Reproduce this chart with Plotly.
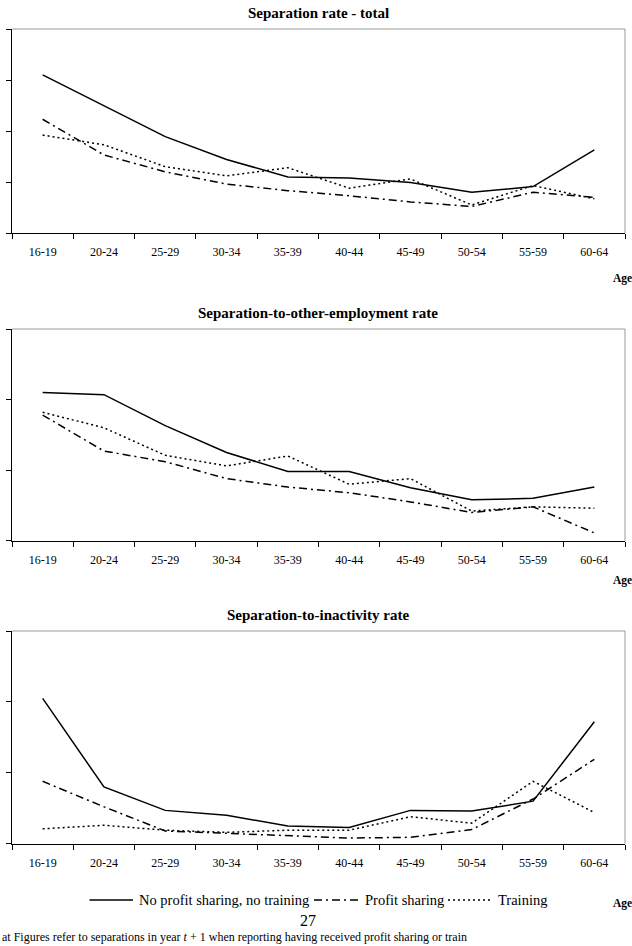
import plotly.graph_objects as go

ages = ["16-19", "20-24", "25-29", "30-34", "35-39", "40-44", "45-49", "50-54", "55-59", "60-64"]

# Panel 1: Separation rate - total (tick labels not visible; axis units 0-4)
total_none = [3.10, 2.49, 1.89, 1.44, 1.10, 1.08, 0.99, 0.80, 0.91, 1.63]
total_profit = [2.23, 1.53, 1.20, 0.96, 0.83, 0.73, 0.61, 0.52, 0.80, 0.70]
total_training = [1.92, 1.73, 1.30, 1.12, 1.28, 0.88, 1.06, 0.55, 0.93, 0.67]

# Panel 2: Separation-to-other-employment rate (axis units 0-3)
emp_none = [2.10, 2.07, 1.63, 1.25, 0.98, 0.98, 0.75, 0.58, 0.60, 0.76]
emp_profit = [1.78, 1.27, 1.12, 0.88, 0.76, 0.68, 0.55, 0.40, 0.48, 0.11]
emp_training = [1.82, 1.60, 1.21, 1.06, 1.20, 0.80, 0.88, 0.42, 0.48, 0.46]

# Panel 3: Separation-to-inactivity rate (axis units 0-3)
ina_none = [2.05, 0.80, 0.47, 0.40, 0.25, 0.23, 0.47, 0.46, 0.60, 1.72]
ina_profit = [0.88, 0.52, 0.18, 0.15, 0.12, 0.08, 0.09, 0.20, 0.63, 1.19]
ina_training = [0.21, 0.26, 0.19, 0.16, 0.19, 0.19, 0.38, 0.29, 0.88, 0.44]

series_names = ["No profit sharing, no training", "Profit sharing", "Training"]
titles = ["Separation rate - total", "Separation-to-other-employment rate", "Separation-to-inactivity rate"]
y_ranges = [[0, 4], [0, 3], [0, 3]]
panels = [
    [total_none, total_profit, total_training],
    [emp_none, emp_profit, emp_training],
    [ina_none, ina_profit, ina_training],
]

W, H = 632, 946
px_x0, px_x1 = 12, 625
panel_px = [(29, 233), (329, 540.7), (631, 843.7)]  # top, bottom in pixels

serif = "Liberation Serif, Times New Roman, serif"
dashes = ["solid", "8px,4px,2px,4px", "2px,3px"]

fig = go.Figure()
layout = dict(
    width=W, height=H,
    margin=dict(l=0, r=0, t=0, b=0),
    paper_bgcolor="white", plot_bgcolor="white",
    showlegend=False,
    font=dict(family=serif, color="black"),
)
annotations = []
shapes = []

for i, (vals, title, yr, (top, bot)) in enumerate(zip(panels, titles, y_ranges, panel_px)):
    xa = "xaxis" if i == 0 else f"xaxis{i+1}"
    ya = "yaxis" if i == 0 else f"yaxis{i+1}"
    xr = "x" if i == 0 else f"x{i+1}"
    yref = "y" if i == 0 else f"y{i+1}"
    for j, (v, name) in enumerate(zip(vals, series_names)):
        fig.add_trace(go.Scatter(
            x=ages, y=v, mode="lines", name=name,
            line=dict(color="black", width=1.5, dash=dashes[j]),
            xaxis=xr, yaxis=yref,
        ))
    layout[xa] = dict(
        domain=[px_x0 / W, px_x1 / W], anchor=yref, type="category",
        categoryorder="array", categoryarray=ages, range=[-0.5, len(ages) - 0.5],
        showline=True, linecolor="black", linewidth=1,
        ticks="outside", ticklen=5, tickcolor="black", tickwidth=1,
        tickson="boundaries", showgrid=False, zeroline=False,
        ticklabelstandoff=8,
        tickfont=dict(family=serif, size=12, color="black"),
        fixedrange=True,
    )
    layout[ya] = dict(
        domain=[1 - bot / H, 1 - top / H], anchor=xr, range=yr, dtick=1,
        showline=True, linecolor="black", linewidth=1,
        ticks="outside", ticklen=5, tickcolor="black", tickwidth=1,
        showticklabels=False, showgrid=False, zeroline=False, fixedrange=True,
    )
    # gray top and right frame
    shapes.append(dict(type="line", xref=f"{xr} domain", yref=f"{yref} domain",
                       x0=0, x1=1, y0=1, y1=1, line=dict(color="#9a9a9a", width=1)))
    shapes.append(dict(type="line", xref=f"{xr} domain", yref=f"{yref} domain",
                       x0=1, x1=1, y0=0, y1=1, line=dict(color="#9a9a9a", width=1)))
    annotations.append(dict(text=f"<b>{title}</b>", xref="paper", yref="paper",
                            x=318 / W, y=1 - (top - 16) / H, xanchor="center", yanchor="middle",
                            showarrow=False, font=dict(family=serif, size=15, color="black")))

age_y = [278, 580, 903]
for yy in age_y:
    annotations.append(dict(text="<b>Age</b>", xref="paper", yref="paper",
                            x=622 / W, y=1 - yy / H, xanchor="center", yanchor="middle",
                            showarrow=False, font=dict(family=serif, size=11.5, color="black")))

# manual legend (line samples + labels)
leg_y = 1 - 900 / H
leg_items = [(89.5, 133, 137), (314, 360, 363), (448, 490, 496)]
for (lx0, lx1, tx), name, d in zip(leg_items, series_names, dashes):
    shapes.append(dict(type="line", xref="paper", yref="paper", x0=lx0 / W, x1=lx1 / W,
                       y0=leg_y, y1=leg_y, line=dict(color="black", width=1.5, dash=d)))
    annotations.append(dict(text=name, xref="paper", yref="paper", x=tx / W, y=leg_y,
                            xanchor="left", yanchor="middle", showarrow=False,
                            font=dict(family=serif, size=14.5, color="black")))

annotations.append(dict(text="27", xref="paper", yref="paper", x=308 / W, y=1 - 920 / H,
                        xanchor="center", yanchor="middle", showarrow=False,
                        font=dict(family=serif, size=16, color="black")))
annotations.append(dict(text="at Figures refer to separations in year <i>t</i> + 1 when reporting having received profit sharing or train",
                        xref="paper", yref="paper", x=0, y=0,
                        xanchor="left", yanchor="bottom", showarrow=False,
                        font=dict(family=serif, size=12, color="black")))

layout["annotations"] = annotations
layout["shapes"] = shapes
fig.update_layout(**layout)
fig.write_html("out.html")
